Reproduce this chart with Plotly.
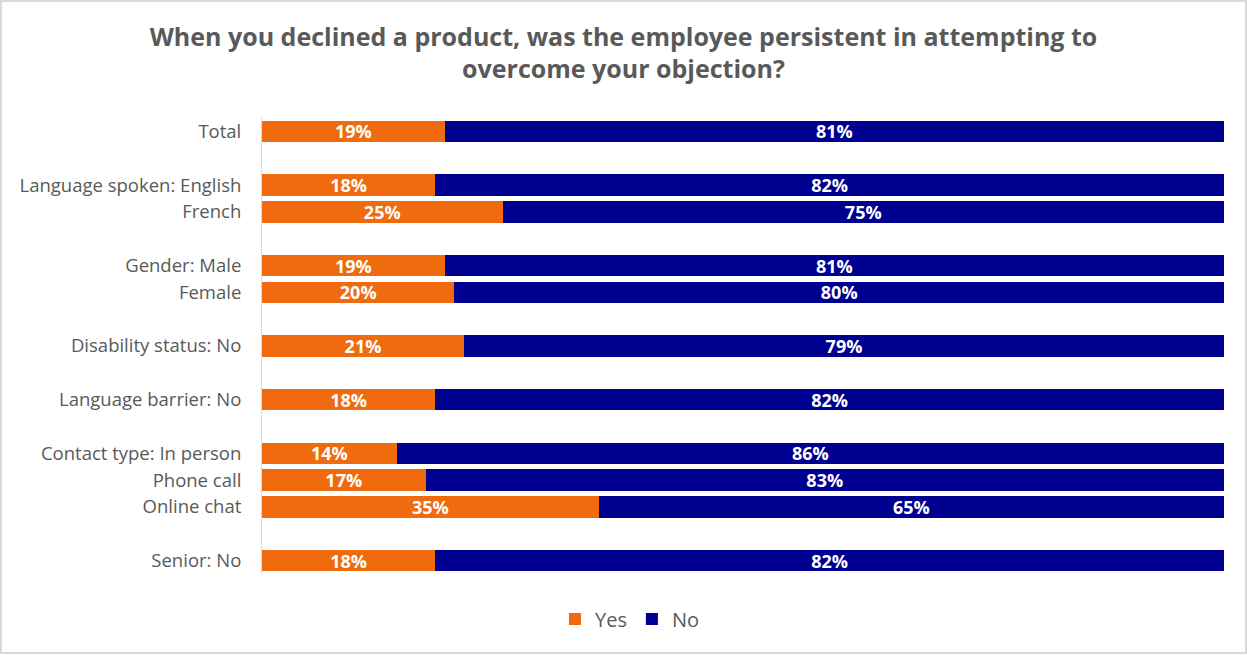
import plotly.graph_objects as go

categories = ["Total", " ", "Language spoken: English", "French", "  ",
              "Gender: Male", "Female", "   ", "Disability status: No", "    ",
              "Language barrier: No", "     ", "Contact type: In person",
              "Phone call", "Online chat", "      ", "Senior: No"]
yes_vals = [19, None, 18, 25, None, 19, 20, None, 21, None, 18, None, 14, 17, 35, None, 18]
no_vals = [81, None, 82, 75, None, 81, 80, None, 79, None, 82, None, 86, 83, 65, None, 82]

title_text = "When you declined a product, was the employee persistent in attempting to<br>overcome your objection?"
FONT = "Open Sans, Lato, sans-serif"
ORANGE = "#F06A0E"
NAVY = "#000090"

def lbl(v):
    return [f"<b>{x}%</b>" if x is not None else "" for x in v]

fig = go.Figure()
fig.add_trace(go.Bar(y=categories, x=yes_vals, name="Yes", orientation="h",
                     marker=dict(color=ORANGE, line=dict(width=0)),
                     text=lbl(yes_vals), textposition="inside", insidetextanchor="middle",
                     textfont=dict(color="white", size=18, family=FONT),
                     constraintext="none", cliponaxis=False))
fig.add_trace(go.Bar(y=categories, x=no_vals, name="No", orientation="h",
                     marker=dict(color=NAVY, line=dict(width=0)),
                     text=lbl(no_vals), textposition="inside", insidetextanchor="middle",
                     textfont=dict(color="white", size=18, family=FONT),
                     constraintext="none", cliponaxis=False))

fig.update_layout(
    width=1247, height=655,
    barmode="stack", bargap=0.2,
    paper_bgcolor="white", plot_bgcolor="white",
    margin=dict(l=262, r=23, t=118, b=81, autoexpand=False),
    title=dict(text=f"<b>{title_text}</b>", x=0.5, xanchor="center", y=0.93, yanchor="top",
               font=dict(family=FONT, size=25, color="#595959")),
    font=dict(family=FONT, color="#595959"),
    xaxis=dict(range=[0, 100], visible=False, fixedrange=True),
    yaxis=dict(categoryorder="array", categoryarray=categories, autorange="reversed",
               showline=True, linecolor="#D9D9D9", linewidth=1, ticks="",
               tickfont=dict(size=18.5, color="#595959", family=FONT), ticklabelstandoff=16),
    legend=dict(orientation="h", x=0.3825, xanchor="center",
                y=-0.0987, yanchor="middle",
                font=dict(size=20, color="#595959", family=FONT), traceorder="normal",
                itemwidth=30, bgcolor="rgba(0,0,0,0)"),
    uniformtext=dict(minsize=10, mode="show"),
    shapes=[dict(type="rect", xref="paper", yref="paper",
                 x0=(1 - 262) / 962, x1=(1246 - 262) / 962,
                 y0=(574 - 653) / 456, y1=(574 - 1) / 456,
                 line=dict(color="#D9D9D9", width=2), fillcolor="rgba(0,0,0,0)", layer="below")],
)

fig.write_html("out.html", config={"displayModeBar": False},
               post_script="document.body.style.margin='0';document.body.style.overflow='hidden';")
